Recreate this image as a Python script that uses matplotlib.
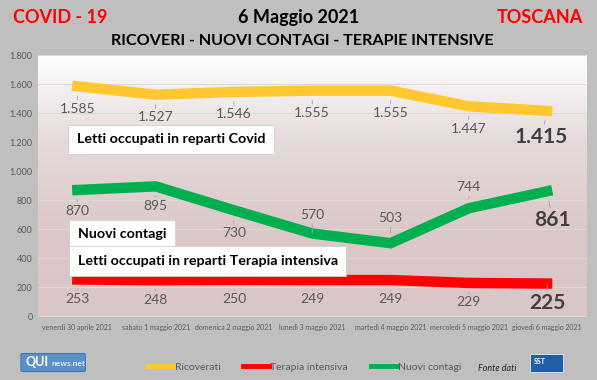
import numpy as np
import matplotlib
matplotlib.use("Agg")
import matplotlib.pyplot as plt
from matplotlib.lines import Line2D
from matplotlib.patches import FancyBboxPatch
from matplotlib.colors import LinearSegmentedColormap

plt.rcParams['font.family'] = ['Lato', 'DejaVu Sans']

giorni = ["venerdì 30 aprile 2021", "sabato 1 maggio 2021", "domenica 2 maggio 2021",
          "lunedì 3 maggio 2021", "martedì 4 maggio 2021", "mercoledì 5 maggio 2021",
          "giovedì 6 maggio 2021"]
ricoverati = [1585, 1527, 1546, 1555, 1555, 1447, 1415]
terapia = [253, 248, 250, 249, 249, 229, 225]
contagi = [870, 895, 730, 570, 503, 744, 861]
yticks = [0, 200, 400, 600, 800, 1000, 1200, 1400, 1600, 1800]

col_ric = '#FFC830'
col_ter = '#FF0000'
col_con = '#00B050'
grigio = '#595959'


def fmt(v):
    return "{:,}".format(v).replace(",", ".")


fig = plt.figure(figsize=(5.97, 3.8), dpi=100)
fig.patch.set_facecolor('#bfbfbf')
ax = fig.add_axes([0.064, 0.168, 0.918, 0.687])

x = np.arange(len(giorni))
ax.set_xlim(-0.5, 6.5)
ax.set_ylim(0, 1800)

# sfondo sfumato dell'area del grafico
cmap = LinearSegmentedColormap.from_list('sf', ['#ffffff', '#e6dada', '#dcc8c8', '#dac6c6'])
grad = np.linspace(0, 1, 256).reshape(-1, 1)
ax.imshow(grad, extent=[-0.5, 6.5, 0, 1800], aspect='auto', cmap=cmap, origin='upper', zorder=0)

for t in yticks[1:]:
    ax.axhline(t, color='#d9d9d9', lw=0.8, zorder=1)

ax.plot(x, ricoverati, color=col_ric, lw=7.5, solid_joinstyle='miter', zorder=3)
ax.plot(x, terapia, color=col_ter, lw=7.5, solid_joinstyle='miter', zorder=3)
ax.plot(x, contagi, color=col_con, lw=7.5, solid_joinstyle='miter', zorder=3)


def etichetta(xi, v, dy, dx=0, big=False):
    fs = 15 if big else 10
    w = 'bold' if big else 'normal'
    col = '#404040' if big else grigio
    ax.annotate(fmt(v), (xi, v), xytext=(dx, dy), textcoords='offset points',
                ha='center', va='center', fontsize=fs, fontweight=w, color=col, zorder=5,
                arrowprops=dict(arrowstyle='-', color='#a0a0a0', lw=0.6, shrinkA=0, shrinkB=7))


for i, v in enumerate(ricoverati):
    if i < 6:
        etichetta(i, v, -16)
    else:
        etichetta(i, v, -19, -4, True)

dy_con = [-15, -14, -16, 13, 18, 15, -20]
for i, v in enumerate(contagi):
    if i < 6:
        etichetta(i, v, dy_con[i])
    else:
        etichetta(i, v, -21, 4, True)

for i, v in enumerate(terapia):
    if i < 6:
        etichetta(i, v, -14)
    else:
        etichetta(i, v, -14, 0, True)

box = dict(boxstyle='square,pad=0.6', facecolor='white', edgecolor='#d0d0d0', lw=0.6)
ax.text(0.07, 0.678, "Letti occupati in reparti Covid", transform=ax.transAxes,
        fontsize=10.3, fontweight='bold', va='center', ha='left', bbox=box, zorder=6)
ax.text(0.072, 0.314, "Nuovi contagi", transform=ax.transAxes,
        fontsize=10.3, fontweight='bold', va='center', ha='left', bbox=box, zorder=6)
ax.text(0.072, 0.211, "Letti occupati in reparti Terapia intensiva", transform=ax.transAxes,
        fontsize=10.3, fontweight='bold', va='center', ha='left', bbox=box, zorder=6)

ax.set_yticks(yticks)
ax.set_yticklabels([fmt(t) for t in yticks], fontsize=6.5, color=grigio)
ax.set_xticks(x)
ax.set_xticklabels(giorni, fontsize=5, color=grigio)
ax.tick_params(length=0, pad=4)
ax.tick_params(axis='x', pad=6)
for s in ax.spines.values():
    s.set_visible(False)
ax.spines['bottom'].set_visible(True)
ax.spines['bottom'].set_color('#d9d9d9')

# titoli
fig.text(0.022, 0.955, "COVID - 19", color='#ff0000', fontsize=13, fontweight='bold', va='center')
fig.text(0.5, 0.955, "6 Maggio 2021", color='black', fontsize=13, fontweight='bold', va='center', ha='center')
fig.text(0.977, 0.955, "TOSCANA", color='#ff0000', fontsize=13, fontweight='bold', va='center', ha='right')
fig.text(0.507, 0.893, "RICOVERI - NUOVI CONTAGI - TERAPIE INTENSIVE", color='black',
         fontsize=11.6, fontweight='bold', va='center', ha='center')

# legenda
handles = [Line2D([], [], color=col_ric, lw=3.5),
           Line2D([], [], color=col_ter, lw=3.5),
           Line2D([], [], color=col_con, lw=3.5)]
fig.legend(handles, ["Ricoverati", "Terapia intensiva", "Nuovi contagi"], loc='center',
           bbox_to_anchor=(0.51, 0.033), ncol=3, frameon=False, fontsize=7.5,
           labelcolor=grigio, handlelength=2.5, handletextpad=0.1, columnspacing=2.2)
fig.text(0.80, 0.03, "Fonte dati", fontsize=6.5, style='italic', color='#262626', va='center')

# loghi semplificati
logo = FancyBboxPatch((0.038, 0.025), 0.102, 0.042, boxstyle='round,pad=0.003',
                      transform=fig.transFigure, facecolor='#5b8fc7', edgecolor='#3a6ea5', lw=0.6)
fig.patches.append(logo)
fig.text(0.042, 0.047, "QUI", fontsize=9, fontweight='bold', color='white', va='center')
fig.text(0.087, 0.044, "news.net", fontsize=6, fontweight='bold', color='#e8eef6', va='center')
sst = FancyBboxPatch((0.888, 0.02), 0.055, 0.048, boxstyle='square,pad=0',
                     transform=fig.transFigure, facecolor='#1f5fa8', edgecolor='white', lw=0.5)
fig.patches.append(sst)
fig.text(0.894, 0.05, "SST", fontsize=5, fontweight='bold', color='white', va='center')

fig.savefig("out.png", dpi=100, facecolor=fig.get_facecolor())
